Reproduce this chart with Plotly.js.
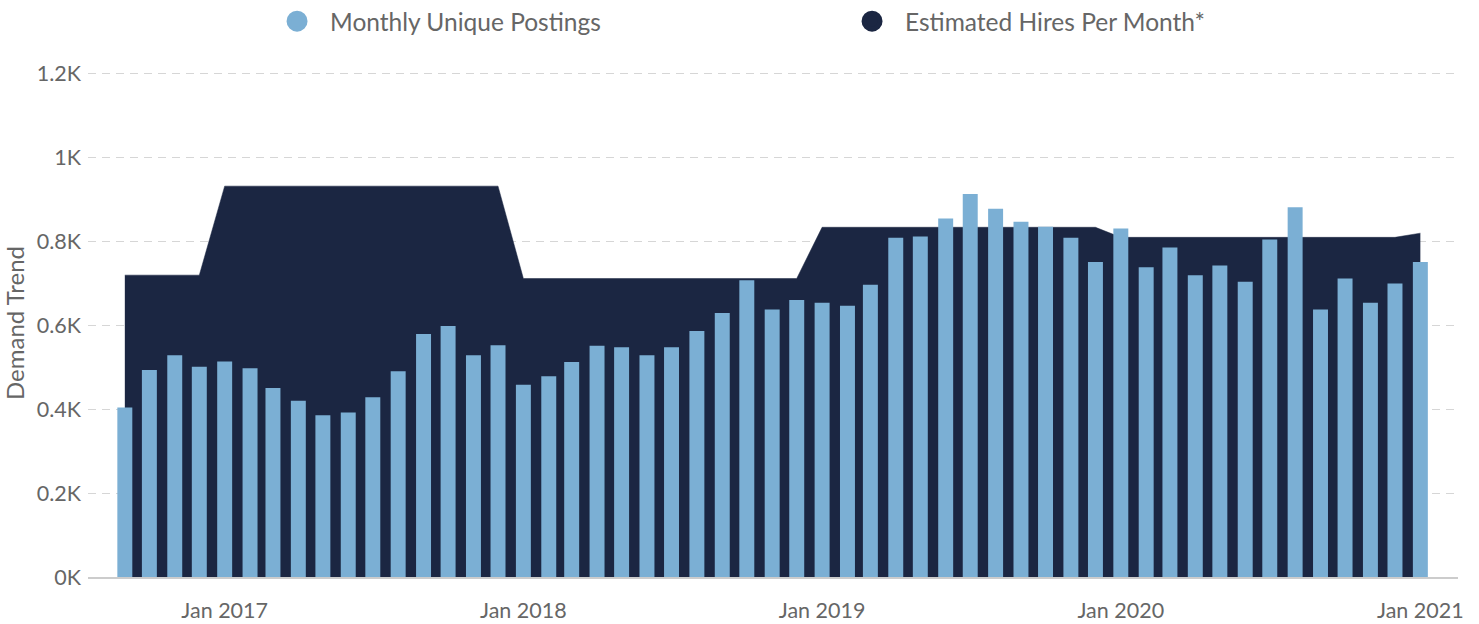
<!DOCTYPE html>
<html>
<head>
<meta charset="utf-8">
<script src="https://cdn.plot.ly/plotly-3.0.1.min.js"></script>
<style>
  html, body { margin: 0; padding: 0; background: #ffffff; }
  #chart { width: 1479px; height: 624px; }
</style>
</head>
<body>
<div id="chart"></div>
<script>
// ---- data ----
var months = [
  '2016-09-01','2016-10-01','2016-11-01','2016-12-01',
  '2017-01-01','2017-02-01','2017-03-01','2017-04-01','2017-05-01','2017-06-01',
  '2017-07-01','2017-08-01','2017-09-01','2017-10-01','2017-11-01','2017-12-01',
  '2018-01-01','2018-02-01','2018-03-01','2018-04-01','2018-05-01','2018-06-01',
  '2018-07-01','2018-08-01','2018-09-01','2018-10-01','2018-11-01','2018-12-01',
  '2019-01-01','2019-02-01','2019-03-01','2019-04-01','2019-05-01','2019-06-01',
  '2019-07-01','2019-08-01','2019-09-01','2019-10-01','2019-11-01','2019-12-01',
  '2020-01-01','2020-02-01','2020-03-01','2020-04-01','2020-05-01','2020-06-01',
  '2020-07-01','2020-08-01','2020-09-01','2020-10-01','2020-11-01','2020-12-01',
  '2021-01-01'
];
var monthlyUniquePostings = [
  404, 493, 528, 501,
  513, 497, 450, 420, 385, 392, 428, 490, 579, 598, 528, 552,
  458, 478, 512, 551, 547, 528, 547, 586, 629, 707, 637, 660,
  653, 646, 696, 808, 811, 854, 912, 877, 846, 834, 808, 750,
  830, 738, 785, 719, 742, 703, 804, 881, 637, 711, 653, 699,
  750
];
var estimatedHiresPerMonth = [
  719, 719, 719, 719,
  931, 931, 931, 931, 931, 931, 931, 931, 931, 931, 931, 931,
  711, 711, 711, 711, 711, 711, 711, 711, 711, 711, 711, 711,
  833, 833, 833, 833, 833, 833, 833, 833, 833, 833, 833, 833,
  809, 809, 809, 809, 809, 809, 809, 809, 809, 809, 809, 809,
  819
];
var seriesNames = ['Monthly Unique Postings', 'Estimated Hires Per Month*'];
var yTickVals = [0, 200, 400, 600, 800, 1000, 1200];
var yTickText = ['0K', '0.2K', '0.4K', '0.6K', '0.8K', '1K', '1.2K'];

// ---- styles ----
var barColor = '#7bafd4';
var areaColor = '#1b2642';
var textColor = '#666666';
var fontFamily = 'Lato, "Open Sans", sans-serif';

var traces = [
  {
    type: 'scatter', mode: 'lines',
    x: months, y: estimatedHiresPerMonth,
    xaxis: 'x', yaxis: 'y',
    fill: 'tozeroy', fillcolor: areaColor,
    line: { color: areaColor, width: 0.5 },
    name: seriesNames[1], showlegend: false, hoverinfo: 'x+y'
  },
  {
    type: 'bar',
    x: months, y: monthlyUniquePostings,
    xaxis: 'x', yaxis: 'y2',
    width: 1.58e9,
    marker: { color: barColor },
    name: seriesNames[0], showlegend: false
  },
  // legend entries (circle symbols)
  {
    type: 'scatter', mode: 'markers', x: [null], y: [null],
    marker: { color: barColor, size: 16, line: { color: barColor, width: 5 } },
    name: seriesNames[0], showlegend: true, legendrank: 1
  },
  {
    type: 'scatter', mode: 'markers', x: [null], y: [null],
    marker: { color: areaColor, size: 16, line: { color: areaColor, width: 5 } },
    name: seriesNames[1], showlegend: true, legendrank: 2
  }
];

var yRange = [0, 1210];

var layout = {
  width: 1479, height: 624,
  margin: { l: 88, r: 21, t: 69, b: 47, pad: 0, autoexpand: false },
  paper_bgcolor: '#ffffff', plot_bgcolor: '#ffffff',
  font: { family: fontFamily, color: textColor, size: 21 },
  showlegend: true,
  legend: {
    orientation: 'h',
    x: 0.1285, xanchor: 'left',
    y: 1.094, yanchor: 'middle',
    font: { family: fontFamily, size: 24.5, color: textColor },
    itemwidth: 56,
    entrywidth: 504, entrywidthmode: 'pixels',
    traceorder: 'normal'
  },
  xaxis: {
    type: 'date', automargin: false,
    range: ['2016-07-18', '2021-02-16'],
    tick0: '2017-01-01', dtick: 'M12',
    tickformat: '%b %Y',
    ticks: '', showgrid: false, zeroline: false,
    showline: true, linecolor: '#cccccc', linewidth: 2,
    tickfont: { family: fontFamily, size: 21.5, color: textColor },
    ticklabelstandoff: 13
  },
  yaxis: {
    range: yRange, automargin: false,
    tickvals: yTickVals, ticktext: yTickText,
    ticks: '', zeroline: false, showline: false,
    showgrid: true, gridcolor: '#d6d6d6', gridwidth: 1, griddash: '8px,6px',
    tickfont: { family: fontFamily, size: 21.5, color: textColor },
    ticklabelstandoff: 6,
    title: { text: 'Demand Trend', standoff: 5, font: { family: fontFamily, size: 24, color: textColor } }
  },
  yaxis2: {
    range: yRange, overlaying: 'y', side: 'left',
    showgrid: false, zeroline: false, showline: false,
    showticklabels: false, ticks: ''
  },
  bargap: 0.4
};

Plotly.newPlot('chart', traces, layout, { displayModeBar: false, staticPlot: true });
</script>
</body>
</html>
